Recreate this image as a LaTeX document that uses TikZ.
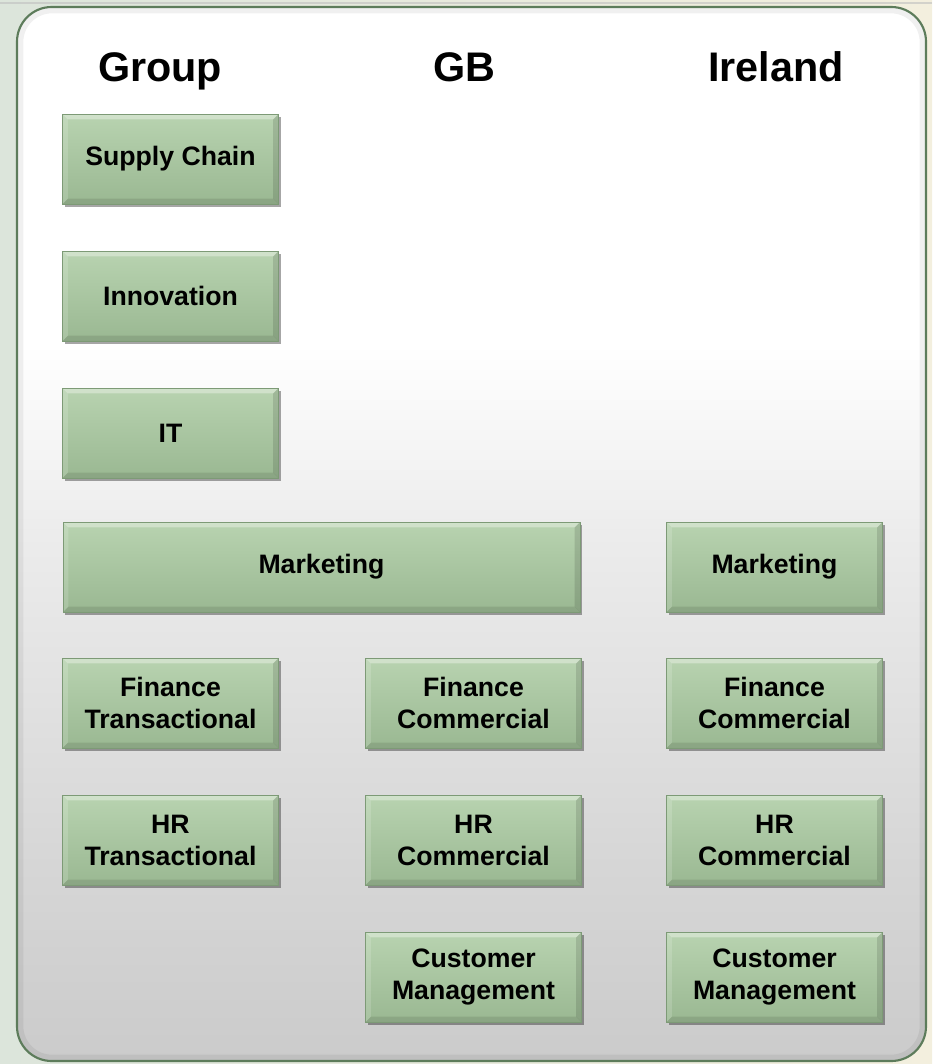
\documentclass[tikz,border=0pt]{standalone}
\usepackage{fontspec}
\setmainfont{Liberation Sans}
\usetikzlibrary{shadows}
\definecolor{bgL}{HTML}{DCE5DB}
\definecolor{bgR}{HTML}{F3EFDE}
\definecolor{panelborder}{HTML}{5D7C5B}
\definecolor{pbot}{HTML}{CBCBCB}
\definecolor{pmid}{HTML}{D7D7D7}
\definecolor{pmid2}{HTML}{ECECEC}
\definecolor{boxtop}{HTML}{B8D3B0}
\definecolor{boxbot}{HTML}{9AB892}
\definecolor{boxline}{HTML}{7D9A76}
\pgfdeclareverticalshading{panelsh}{100bp}{color(0bp)=(pbot); color(25bp)=(pbot); color(35bp)=(pmid); color(50bp)=(pmid2); color(59bp)=(white); color(100bp)=(white)}
\tikzset{
  unit/.style={draw=boxline, line width=0.6pt, top color=boxtop, bottom color=boxbot,
    minimum width=162pt, minimum height=67.5pt, align=center, inner sep=2pt,
    font=\bfseries\fontsize{20}{24}\selectfont,
    drop shadow={shadow xshift=1.5pt, shadow yshift=-2.2pt, opacity=0.35, fill=black},
    path picture={
      \coordinate (nw) at (path picture bounding box.north west);
      \coordinate (ne) at (path picture bounding box.north east);
      \coordinate (sw) at (path picture bounding box.south west);
      \coordinate (se) at (path picture bounding box.south east);
      \fill[white, opacity=0.35] (nw) -- (ne) -- ([xshift=-4pt,yshift=-4pt]ne) -- ([xshift=4pt,yshift=-4pt]nw) -- cycle;
      \fill[white, opacity=0.15] (nw) -- ([xshift=4pt,yshift=-4pt]nw) -- ([xshift=4pt,yshift=4pt]sw) -- (sw) -- cycle;
      \fill[black, opacity=0.10] (sw) -- (se) -- ([xshift=-4pt,yshift=4pt]se) -- ([xshift=4pt,yshift=4pt]sw) -- cycle;
      \fill[black, opacity=0.12] (ne) -- (se) -- ([xshift=-4pt,yshift=4pt]se) -- ([xshift=-4pt,yshift=-4pt]ne) -- cycle;
    }},
  wideunit/.style={unit, minimum width=387.75pt},
  heading/.style={anchor=base, font=\bfseries\fontsize{31}{37}\selectfont, inner sep=0pt}
}
\begin{document}
\begin{tikzpicture}[x=0.75pt,y=-0.75pt]
\useasboundingbox (0,0) rectangle (932,1064);
\shade[left color=bgL, right color=bgR] (0,0) rectangle (932,1064);
\draw[color=black!25, opacity=0.6, line width=0.8pt] (0,3) -- (932,3);
% panel
\path[shading=panelsh, rounded corners=26pt] (17,7) rectangle (926,1061);
\draw[black, opacity=0.06, line width=5pt, rounded corners=24pt] (20,10) rectangle (923,1058);
\draw[panelborder, line width=1.6pt, rounded corners=26pt] (17,7) rectangle (926,1061);
% headings
\node[heading] (hgroup) at (160,81) {Group};
\node[heading] (hgb) at (464,81) {GB};
\node[heading] (hire) at (776,81) {Ireland};
% group column
\node[unit] (supply) at (170.5,159) {Supply Chain};
\node[unit] (innov) at (170.5,296) {Innovation};
\node[unit] (it) at (170.5,433) {IT};
\node[wideunit] (mktg) at (321.5,567) {Marketing};
\node[unit] (fint) at (170.5,703) {Finance\\Transactional};
\node[unit] (hrt) at (170.5,840) {HR\\Transactional};
% GB column
\node[unit] (fingb) at (473.5,703) {Finance\\Commercial};
\node[unit] (hrgb) at (473.5,840) {HR\\Commercial};
\node[unit] (cmgb) at (473.5,977) {Customer\\Management};
% Ireland column
\node[unit] (mkie) at (774.5,567) {Marketing};
\node[unit] (finie) at (774.5,703) {Finance\\Commercial};
\node[unit] (hrie) at (774.5,840) {HR\\Commercial};
\node[unit] (cmie) at (774.5,977) {Customer\\Management};
\end{tikzpicture}
\end{document}
